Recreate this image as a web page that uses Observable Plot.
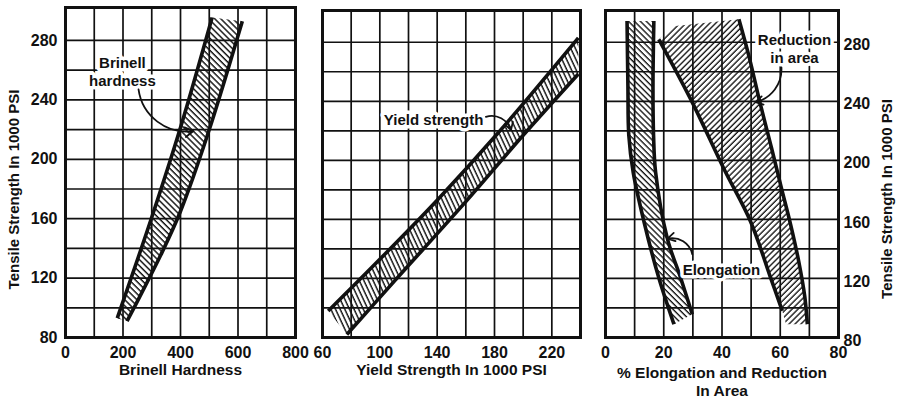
<!DOCTYPE html>
<html><head><meta charset="utf-8">
<script src="https://cdn.jsdelivr.net/npm/d3@7"></script>
<script src="https://cdn.jsdelivr.net/npm/@observablehq/plot@0.6"></script>
<style>
html,body{margin:0;padding:0;background:#fff;}
#chart{position:relative;width:898px;height:401px;overflow:hidden;background:#fff;}
#chart svg{position:absolute;left:0;top:0;}
</style></head><body>
<svg width="0" height="0" style="position:absolute;left:0;top:0">
  <defs>
    <pattern id="hB" patternUnits="userSpaceOnUse" width="4.3" height="10" patternTransform="rotate(-45)">
      <line x1="1" y1="0" x2="1" y2="10" stroke="#111" stroke-width="1.45"/>
    </pattern>
    <pattern id="hY" patternUnits="userSpaceOnUse" width="4.2" height="10" patternTransform="rotate(-25)">
      <line x1="1" y1="0" x2="1" y2="10" stroke="#111" stroke-width="1.45"/>
    </pattern>
    <pattern id="hE" patternUnits="userSpaceOnUse" width="4.2" height="10" patternTransform="rotate(-45)">
      <line x1="1" y1="0" x2="1" y2="10" stroke="#111" stroke-width="1.35"/>
    </pattern>
    <pattern id="hR" patternUnits="userSpaceOnUse" width="4.2" height="10" patternTransform="rotate(45)">
      <line x1="1" y1="0" x2="1" y2="10" stroke="#111" stroke-width="1.35"/>
    </pattern>
  </defs>
</svg>
<div id="chart"></div>
<script>
// ---------- data ----------
const yTitle = "Tensile Strength In 1000 PSI";
const yTicks = [80, 120, 160, 200, 240, 280];
const yGrid = [100, 120, 140, 160, 180, 200, 220, 240, 260, 280];

// Panel 1: Brinell hardness band  [hardness, tensile]
const brinellLeft  = [[180, 93], [296, 158.6], [400, 221.4], [510, 295.5]];
const brinellRight = [[214, 91], [265, 110], [330, 135], [400, 165], [495, 217], [615, 293]];
const p1Ticks = [0, 200, 400, 600, 800];
const p1Grid = [100, 200, 300, 400, 500, 600, 700];
const p1Title = "Brinell Hardness";
const p1Label = [{x: 198, y: 259.6, text: "Brinell\nhardness"}];
const p1Arrow = [{x1: 254, y1: 247, x2: 445, y2: 219}];

// Panel 2: Yield strength band  [yield, tensile]
const yieldUpper = [[64, 98], [100, 133], [140, 173], [182, 218], [238.5, 283]];
const yieldLower = [[77, 82], [110, 118], [160, 172], [200, 217], [238.5, 258.5]];
const p2Ticks = [60, 100, 140, 180, 220];
const p2Grid = [80, 100, 120, 140, 160, 180, 200, 220];
const p2Title = "Yield Strength In 1000 PSI";
const p2Label = [{x: 137.5, y: 228, text: "Yield strength"}];
const p2Arrow = [{x1: 174, y1: 229.5, x2: 191.5, y2: 220.5}];

// Panel 3: Elongation and reduction in area bands  [percent, tensile]
const elongLeft  = [[7.4, 294.4], [7.7, 250], [8.0, 217], [9.5, 192], [13.2, 158.6], [18.3, 120.4], [23.5, 89]];
const elongRight = [[16.6, 294.4], [16.3, 250], [16.5, 217], [17.2, 192], [21.2, 147.3], [25.8, 120.4], [29.8, 95.7]];
const reducLeft  = [[18.3, 282], [29.2, 241.6], [40.6, 194.5], [49.8, 158.6], [56.7, 120.4], [60.7, 98]];
const reducRight = [[45.8, 295.5], [49.5, 268.6], [53, 239.4], [56.8, 210], [60.3, 182], [63.5, 157], [66.3, 132], [68.4, 108], [69.3, 89]];
const reducTopCorner = [[24, 291]];
const reducBottomCorner = [[62, 89]];
const p3Ticks = [0, 20, 40, 60, 80];
const p3Grid = [10, 20, 30, 40, 50, 60, 70];
const p3Title = "% Elongation and Reduction\nIn Area";
const p3Labels = [{x: 64.9, y: 276, text: "Reduction\nin area"}, {x: 39.8, y: 126.3, text: "Elongation"}];
const p3ArrowsCW = [{x1: 60.4, y1: 263, x2: 51.5, y2: 239.4}];
const p3ArrowsCCW = [{x1: 29.8, y1: 136.4, x2: 21.3, y2: 147}];

// ---------- helpers ----------
const FONT = "'Liberation Sans', Arial, Helvetica, sans-serif";
const INK = "#111";
const X = d => d[0], Y = d => d[1];
const style = {background: "transparent", overflow: "visible", fontFamily: FONT, fontWeight: "bold", fontSize: "16px", color: INK};

function common(xGrid, xTicks) {
  return [
    Plot.ruleX(xGrid, {stroke: INK, strokeWidth: 1.7}),
    Plot.ruleY(yGrid, {stroke: INK, strokeWidth: 1.7}),
    Plot.axisX(xTicks, {tickSize: 0, tickPadding: 9, label: null, fontSize: 16, fontWeight: "bold"})
  ];
}
function band(a, b, fill, extra1 = [], extra2 = []) {
  const poly = [...a, ...extra1, ...b.slice().reverse(), ...extra2];
  return Plot.line(poly, {x: X, y: Y, fill, stroke: "none", curve: "linear"});
}
function edge(pts) {
  return Plot.line(pts, {x: X, y: Y, stroke: INK, strokeWidth: 3.6, curve: "catmull-rom", strokeLinecap: "butt"});
}
function annot(data) {
  return Plot.text(data, {x: "x", y: "y", text: "text", fontSize: 15, fontWeight: "bold", lineHeight: 1.2,
    stroke: "white", strokeWidth: 7, paintOrder: "stroke", fill: INK});
}
function arrow(data, bend, headLength) {
  return Plot.arrow(data, {x1: "x1", y1: "y1", x2: "x2", y2: "y2", bend, stroke: INK, strokeWidth: 1.8, headLength});
}
function title(t, dy) {
  return Plot.text([t], {text: d => d, frameAnchor: "bottom", dy, fontSize: 15.5, fontWeight: "bold", lineHeight: 1.12, fill: INK});
}
function yLabel(anchor, dx, dy) {
  return Plot.text([yTitle], {text: d => d, frameAnchor: anchor, textAnchor: "middle", rotate: -90, dx, dy, fontSize: 15, fontWeight: "bold", fill: INK});
}

const chart = document.getElementById("chart");

// Panel 1
chart.append(Plot.plot({
  width: 898, height: 401, marginLeft: 65, marginRight: 603, marginTop: 7, marginBottom: 64,
  style,
  x: {domain: [0, 800]}, y: {domain: [80, 302.2]},
  marks: [
    ...common(p1Grid, p1Ticks),
    Plot.axisY(yTicks, {anchor: "left", tickSize: 0, tickPadding: 8, label: null, fontSize: 16, fontWeight: "bold"}),
    band(brinellLeft, brinellRight, "url(#hB)"),
    edge(brinellLeft), edge(brinellRight),
    annot(p1Label),
    arrow(p1Arrow, -45, 8),
    Plot.frame({stroke: INK, strokeWidth: 3}),
    title(p1Title, 37),
    yLabel("left", -51, 17)
  ]
}));

// Panel 2
chart.append(Plot.plot({
  width: 898, height: 401, marginLeft: 322, marginRight: 318, marginTop: 10, marginBottom: 64,
  style,
  x: {domain: [60, 240]}, y: {domain: [80, 301.5], axis: null},
  marks: [
    ...common(p2Grid, p2Ticks),
    band(yieldUpper, yieldLower, "url(#hY)"),
    edge(yieldUpper), edge(yieldLower),
    annot(p2Label),
    arrow(p2Arrow, 45, 7),
    Plot.frame({stroke: INK, strokeWidth: 3}),
    title(p2Title, 37)
  ]
}));

// Panel 3
chart.append(Plot.plot({
  width: 898, height: 401, marginLeft: 605, marginRight: 60, marginTop: 10, marginBottom: 64,
  style,
  x: {domain: [0, 80]}, y: {domain: [80, 301.5]},
  marks: [
    ...common(p3Grid, p3Ticks),
    Plot.axisY(yTicks, {anchor: "right", tickSize: 0, tickPadding: 5, dy: 3, label: null, fontSize: 16, fontWeight: "bold"}),
    band(elongLeft, elongRight, "url(#hE)"),
    band(reducLeft, reducRight, "url(#hR)", reducBottomCorner, reducTopCorner),
    edge(elongLeft), edge(elongRight), edge(reducLeft), edge(reducRight),
    annot(p3Labels),
    arrow(p3ArrowsCW, 40, 7),
    arrow(p3ArrowsCCW, -45, 7),
    Plot.frame({stroke: INK, strokeWidth: 3}),
    title(p3Title, 58),
    yLabel("right", 49, 25)
  ]
}));
</script>
</body></html>
